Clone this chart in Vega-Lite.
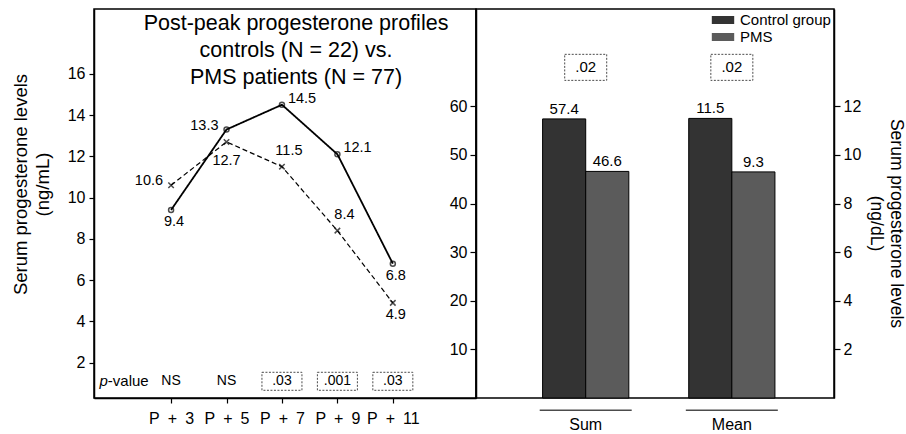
{
  "$schema": "https://vega.github.io/schema/vega-lite/v6.json",
  "padding": {"left": 10, "top": 8, "right": 0, "bottom": 0},
  "bounds": "flush",
  "spacing": 0,
  "resolve": {"scale": {"color": "independent", "strokeDash": "independent", "strokeWidth": "independent"}, "legend": {"color": "independent"}},
  "datasets": {
    "profile": [
      {"day": 3, "group": "Control", "value": 9.4},
      {"day": 5, "group": "Control", "value": 13.3},
      {"day": 7, "group": "Control", "value": 14.5},
      {"day": 9, "group": "Control", "value": 12.1},
      {"day": 11, "group": "Control", "value": 6.8},
      {"day": 3, "group": "PMS", "value": 10.6},
      {"day": 5, "group": "PMS", "value": 12.7},
      {"day": 7, "group": "PMS", "value": 11.5},
      {"day": 9, "group": "PMS", "value": 8.4},
      {"day": 11, "group": "PMS", "value": 4.9}
    ],
    "pvals": [
      {"day": 3, "p": "NS"},
      {"day": 5, "p": "NS"},
      {"day": 7, "p": ".03"},
      {"day": 9, "p": ".001"},
      {"day": 11, "p": ".03"}
    ],
    "bars": [
      {"measure": "Sum", "group": "Control group", "value": 57.4},
      {"measure": "Sum", "group": "PMS", "value": 46.6},
      {"measure": "Mean", "group": "Control group", "value": 11.5},
      {"measure": "Mean", "group": "PMS", "value": 9.3}
    ],
    "barp": [
      {"measure": "Sum", "p": ".02"},
      {"measure": "Mean", "p": ".02"}
    ]
  },
  "config": {
    "view": {"stroke": "black", "strokeWidth": 1.5},
    "font": "Liberation Sans",
    "axis": {
      "grid": false, "domainColor": "black", "domainWidth": 1.5, "tickColor": "black", "tickWidth": 1.2,
      "labelColor": "black", "titleColor": "black", "labelFont": "Liberation Sans", "titleFont": "Liberation Sans",
      "titleFontWeight": "normal", "labelFontSize": 16, "titleFontSize": 18.5, "titleLineHeight": 22, "tickSize": 5
    },
    "text": {"font": "Liberation Sans", "color": "black"},
    "legend": {"labelFont": "Liberation Sans", "labelColor": "black"}
  },
  "hconcat": [
    {
      "width": 382,
      "height": 389,
      "title": {
        "text": ["Post-peak progesterone profiles", "controls (N = 22) vs.", "PMS patients (N = 77)"],
        "fontSize": 21.5, "fontWeight": "normal", "font": "Liberation Sans", "lineHeight": 27,
        "anchor": "middle", "frame": "group", "offset": -79, "dx": 11, "color": "black"
      },
      "layer": [
        {
          "data": {"name": "profile"},
          "mark": {"type": "line", "color": "black"},
          "encoding": {
            "x": {"field": "day", "type": "quantitative", "scale": {"domain": [0.22, 14], "nice": false, "zero": false},
                  "axis": {"values": [3, 5, 7, 9, 11], "labelExpr": "'P\u2002+\u2002' + datum.value", "title": null, "labelPadding": 7, "tickSize": 5}},
            "y": {"field": "value", "type": "quantitative", "scale": {"domain": [0.29, 19.14], "nice": false, "zero": false},
                  "axis": {"values": [2, 4, 6, 8, 10, 12, 14, 16], "title": ["Serum progesterone levels", "(ng/mL)"], "titlePadding": 15, "titleY": 175, "labelPadding": 4, "tickSize": 5}},
            "strokeDash": {"field": "group", "type": "nominal", "scale": {"domain": ["Control", "PMS"], "range": [[1, 0], [5, 3]]}, "legend": null},
            "strokeWidth": {"field": "group", "type": "nominal", "scale": {"domain": ["Control", "PMS"], "range": [1.8, 1.2]}, "legend": null}
          }
        },
        {
          "data": {"name": "profile"},
          "transform": [{"filter": "datum.group == 'Control'"}],
          "mark": {"type": "point", "shape": "circle", "filled": false, "color": "black", "size": 25, "strokeWidth": 1.5},
          "encoding": {"x": {"field": "day", "type": "quantitative"}, "y": {"field": "value", "type": "quantitative"}}
        },
        {
          "data": {"name": "profile"},
          "transform": [{"filter": "datum.group == 'PMS'"}],
          "mark": {"type": "point", "shape": "M-1,-1L1,1M-1,1L1,-1", "filled": false, "color": "black", "size": 30, "strokeWidth": 1.5},
          "encoding": {"x": {"field": "day", "type": "quantitative"}, "y": {"field": "value", "type": "quantitative"}}
        },
        {
          "data": {"name": "profile"},
          "transform": [{"filter": "(datum.group == 'Control' && (datum.day == 3 || datum.day == 11)) || (datum.group == 'PMS' && datum.day == 11)"}],
          "mark": {"type": "text", "fontSize": 14.5, "dx": 3, "dy": 12, "baseline": "middle"},
          "encoding": {"x": {"field": "day", "type": "quantitative"}, "y": {"field": "value", "type": "quantitative"}, "text": {"field": "value", "type": "quantitative", "format": ".1f"}}
        },
        {
          "data": {"name": "profile"},
          "transform": [{"filter": "datum.group == 'PMS' && datum.day == 5"}],
          "mark": {"type": "text", "fontSize": 14.5, "dx": 0, "dy": 19, "baseline": "middle"},
          "encoding": {"x": {"field": "day", "type": "quantitative"}, "y": {"field": "value", "type": "quantitative"}, "text": {"field": "value", "type": "quantitative", "format": ".1f"}}
        },
        {
          "data": {"name": "profile"},
          "transform": [{"filter": "datum.group == 'Control' && (datum.day == 7 || datum.day == 9)"}],
          "mark": {"type": "text", "fontSize": 14.5, "align": "left", "dx": 6, "dy": -6, "baseline": "middle"},
          "encoding": {"x": {"field": "day", "type": "quantitative"}, "y": {"field": "value", "type": "quantitative"}, "text": {"field": "value", "type": "quantitative", "format": ".1f"}}
        },
        {
          "data": {"name": "profile"},
          "transform": [{"filter": "datum.group == 'PMS' && (datum.day == 7 || datum.day == 9)"}],
          "mark": {"type": "text", "fontSize": 14.5, "dx": 7, "dy": -16, "baseline": "middle"},
          "encoding": {"x": {"field": "day", "type": "quantitative"}, "y": {"field": "value", "type": "quantitative"}, "text": {"field": "value", "type": "quantitative", "format": ".1f"}}
        },
        {
          "data": {"name": "profile"},
          "transform": [{"filter": "(datum.group == 'PMS' && datum.day == 3) || (datum.group == 'Control' && datum.day == 5)"}],
          "mark": {"type": "text", "fontSize": 14.5, "align": "right", "dx": -8, "dy": -4, "baseline": "middle"},
          "encoding": {"x": {"field": "day", "type": "quantitative"}, "y": {"field": "value", "type": "quantitative"}, "text": {"field": "value", "type": "quantitative", "format": ".1f"}}
        },
        {
          "data": {"name": "pvals"},
          "mark": {"type": "text", "fontSize": 14, "baseline": "middle"},
          "encoding": {"x": {"field": "day", "type": "quantitative"}, "y": {"datum": 1.1}, "text": {"field": "p", "type": "nominal"}}
        },
        {
          "data": {"name": "pvals"},
          "transform": [{"filter": "datum.p != 'NS'"}],
          "mark": {"type": "point", "shape": "M-1,-0.45H1V0.45H-1Z", "size": 1600, "filled": false, "color": "black", "strokeWidth": 1, "strokeDash": [2, 1.5]},
          "encoding": {"x": {"field": "day", "type": "quantitative"}, "y": {"datum": 1.1}}
        },
        {
          "data": {"values": [{}]},
          "mark": {"type": "text", "text": "p", "fontStyle": "italic", "fontSize": 15, "align": "right", "baseline": "middle"},
          "encoding": {"x": {"datum": 0.72}, "y": {"datum": 1.1}}
        },
        {
          "data": {"values": [{}]},
          "mark": {"type": "text", "text": "-value", "fontSize": 15, "align": "left", "baseline": "middle"},
          "encoding": {"x": {"datum": 0.72}, "y": {"datum": 1.1}}
        }
      ]
    },
    {
      "width": 358,
      "height": 389,
      "encoding": {
        "x": {"field": "measure", "type": "nominal",
              "scale": {"domain": ["Sum", "Mean"], "paddingInner": 0.41, "paddingOuter": 0.43, "align": 0.53},
              "axis": {"title": null, "domain": false, "ticks": false, "labelFontSize": 16, "labelPadding": 18, "labelAngle": 0}}
      },
      "layer": [
        {
          "layer": [
            {
              "data": {"name": "bars"},
              "transform": [{"filter": "datum.measure == 'Sum'"}],
              "mark": {"type": "bar", "stroke": "black", "strokeWidth": 1},
              "encoding": {
                "xOffset": {"field": "group", "type": "nominal", "scale": {"domain": ["Control group", "PMS"], "paddingInner": 0, "paddingOuter": 0}},
                "y": {"field": "value", "type": "quantitative", "scale": {"domain": [0, 80], "nice": false},
                      "axis": {"values": [10, 20, 30, 40, 50, 60], "title": null, "tickSize": 6, "labelPadding": 3}},
                "color": {"field": "group", "type": "nominal", "scale": {"domain": ["Control group", "PMS"], "range": ["#333333", "#5b5b5b"]},
                          "legend": {"orient": "top-right", "offset": 3, "title": null, "symbolType": "M-1.4,-0.5H1.4V0.5H-1.4Z", "symbolSize": 256, "labelFontSize": 15, "rowPadding": 1, "padding": 0, "labelOffset": 9, "symbolStrokeWidth": 0}}
              }
            },
            {
              "data": {"name": "bars"},
              "transform": [{"filter": "datum.measure == 'Sum'"}],
              "mark": {"type": "text", "fontSize": 15, "dy": -10, "baseline": "middle"},
              "encoding": {
                "xOffset": {"field": "group", "type": "nominal"},
                "y": {"field": "value", "type": "quantitative"},
                "text": {"field": "value", "type": "quantitative", "format": ".1f"}
              }
            },
            {
              "data": {"name": "barp"},
              "mark": {"type": "point", "shape": "M-1,-0.62H1V0.62H-1Z", "size": 1764, "filled": false, "color": "black", "strokeWidth": 1, "strokeDash": [2, 1.5]},
              "encoding": {"y": {"datum": 68}}
            },
            {
              "data": {"name": "barp"},
              "mark": {"type": "text", "fontSize": 15, "baseline": "middle"},
              "encoding": {"y": {"datum": 68}, "text": {"field": "p", "type": "nominal"}}
            },
            {
              "data": {"name": "barp"},
              "mark": {"type": "tick", "size": 92, "thickness": 1.5, "color": "black"},
              "encoding": {"y": {"datum": -2.5}}
            }
          ]
        },
        {
          "layer": [
            {
              "data": {"name": "bars"},
              "transform": [{"filter": "datum.measure == 'Mean'"}],
              "mark": {"type": "bar", "stroke": "black", "strokeWidth": 1},
              "encoding": {
                "xOffset": {"field": "group", "type": "nominal", "scale": {"domain": ["Control group", "PMS"], "paddingInner": 0, "paddingOuter": 0}},
                "y": {"field": "value", "type": "quantitative", "scale": {"domain": [0, 16], "nice": false},
                      "axis": {"orient": "right", "values": [2, 4, 6, 8, 10, 12], "title": ["Serum progesterone levels", "(ng/dL)"], "titleY": 214, "titlePadding": 6, "titleFontSize": 17.5, "titleLineHeight": 20, "tickSize": 6, "labelPadding": 3}},
                "color": {"field": "group", "type": "nominal", "scale": {"domain": ["Control group", "PMS"], "range": ["#333333", "#5b5b5b"]},
                          "legend": {"orient": "top-right", "offset": 3, "title": null, "symbolType": "M-1.4,-0.5H1.4V0.5H-1.4Z", "symbolSize": 256, "labelFontSize": 15, "rowPadding": 1, "padding": 0, "labelOffset": 9, "symbolStrokeWidth": 0}}
              }
            },
            {
              "data": {"name": "bars"},
              "transform": [{"filter": "datum.measure == 'Mean'"}],
              "mark": {"type": "text", "fontSize": 15, "dy": -10, "baseline": "middle"},
              "encoding": {
                "xOffset": {"field": "group", "type": "nominal"},
                "y": {"field": "value", "type": "quantitative"},
                "text": {"field": "value", "type": "quantitative", "format": ".1f"}
              }
            }
          ]
        }
      ],
      "resolve": {"scale": {"y": "independent"}}
    }
  ]
}
